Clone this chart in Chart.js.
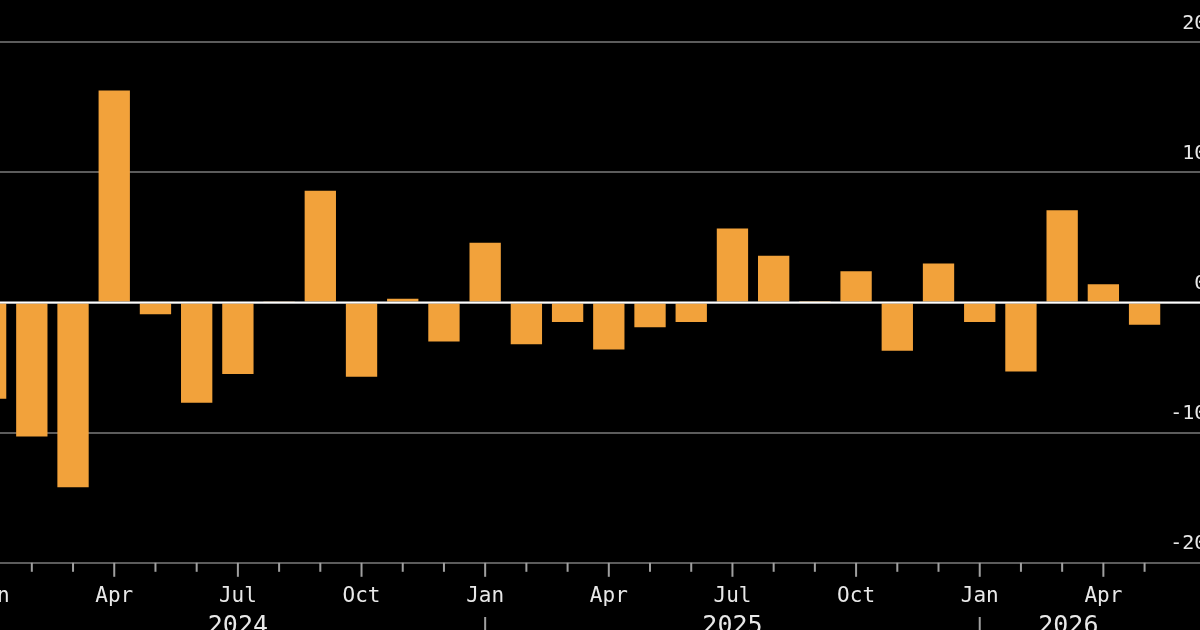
<!DOCTYPE html>
<html>
<head>
<meta charset="utf-8">
<script src="https://cdn.jsdelivr.net/npm/chart.js@4/dist/chart.umd.min.js"></script>
<style>
  html, body { margin: 0; padding: 0; background: #000; overflow: hidden; width: 1200px; height: 630px; }
  #wrap { position: absolute; left: -55.4px; top: 0; width: 1320px; height: 630px; }
</style>
</head>
<body>
<div id="wrap"><canvas id="chart" width="1320" height="630"></canvas></div>
<script>
// monthly categories, Jan 2024 .. Jun 2026 (last one is empty room at the right edge)
const months = [
  '2024-01','2024-02','2024-03','2024-04','2024-05','2024-06','2024-07','2024-08','2024-09','2024-10','2024-11','2024-12',
  '2025-01','2025-02','2025-03','2025-04','2025-05','2025-06','2025-07','2025-08','2025-09','2025-10','2025-11','2025-12',
  '2026-01','2026-02','2026-03','2026-04','2026-05','2026-06'
];
const monthNames = ['Jan','Feb','Mar','Apr','May','Jun','Jul','Aug','Sep','Oct','Nov','Dec'];

// values, Jan 2024 .. May 2026
const values = [
  -7.4, -10.3, -14.2, 16.3, -0.9, -7.7, -5.5, 0.1, 8.6, -5.7, 0.3, -3.0,
  4.6, -3.2, -1.5, -3.6, -1.9, -1.5, 5.7, 3.6, 0.05, 2.4, -3.7, 3.0,
  -1.5, -5.3, 7.1, 1.4, -1.7
];

const yTicks = [-20, -10, 0, 10, 20];
const years = ['2024', '2025', '2026'];
const yearCenters = [6, 18, 26.15]; // category index where each year label sits

const TEXT = '#e8e8e8';
const GRID = '#5c5c5c';
const FONT = '"DejaVu Sans Mono", monospace';

const axisDecor = {
  id: 'axisDecor',
  afterDatasetsDraw(chart) {
    const { ctx, chartArea, scales: { y } } = chart;
    const y0 = y.getPixelForValue(0);
    ctx.save();
    ctx.strokeStyle = '#ffffff';
    ctx.lineWidth = 2;
    ctx.beginPath();
    ctx.moveTo(chartArea.left, y0);
    ctx.lineTo(chartArea.right, y0);
    ctx.stroke();
    ctx.restore();
  },
  afterDraw(chart) {
    const { ctx, chartArea, scales: { x } } = chart;
    const base = chartArea.bottom;
    ctx.save();
    ctx.strokeStyle = '#a0a0a0';
    ctx.lineWidth = 2;
    // month ticks, longer on quarters
    values.forEach((v, i) => {
      const m = +months[i].slice(5) - 1;
      const px = x.getPixelForValue(i);
      const len = m % 3 === 0 ? 14 : 9;
      ctx.beginPath();
      ctx.moveTo(px, base);
      ctx.lineTo(px, base + len);
      ctx.stroke();
      // year separators under January
      if (m === 0) {
        ctx.beginPath();
        ctx.moveTo(px, 617);
        ctx.lineTo(px, 640);
        ctx.stroke();
      }
    });
    // year labels
    const step = x.getPixelForValue(1) - x.getPixelForValue(0);
    ctx.fillStyle = TEXT;
    ctx.font = '25px ' + FONT;
    ctx.textAlign = 'center';
    ctx.textBaseline = 'alphabetic';
    years.forEach((yr, k) => {
      const c = yearCenters[k];
      const px = x.getPixelForValue(Math.floor(c)) + (c - Math.floor(c)) * step;
      ctx.fillText(yr, px, 633);
    });
    ctx.restore();
  }
};

new Chart(document.getElementById('chart'), {
  type: 'bar',
  data: {
    labels: months,
    datasets: [{
      data: values,
      backgroundColor: '#f2a23b',
      borderWidth: 0,
      categoryPercentage: 1,
      barPercentage: 0.76
    }]
  },
  options: {
    responsive: false,
    animation: false,
    layout: { padding: { left: 25, right: 58.6, top: 42.3, bottom: 0 } },
    plugins: { legend: { display: false }, tooltip: { enabled: false } },
    scales: {
      x: {
        grid: { display: false, drawTicks: false },
        border: { display: false },
        ticks: {
          autoSkip: false,
          maxRotation: 0,
          padding: 21,
          color: TEXT,
          font: { family: FONT, size: 21 },
          callback: (val, i) => {
            const m = +months[i].slice(5) - 1;
            return m % 3 === 0 ? monthNames[m] : '';
          }
        }
      },
      y: {
        position: 'right',
        min: yTicks[0],
        max: yTicks[yTicks.length - 1],
        afterBuildTicks: (axis) => { axis.ticks = yTicks.map(v => ({ value: v })); },
        grid: { color: GRID, lineWidth: 2, drawTicks: false },
        border: { display: false },
        ticks: {
          mirror: true,
          padding: 0,
          labelOffset: -19,
          color: TEXT,
          font: { family: FONT, size: 20 },
          callback: (v) => String(v)
        }
      }
    }
  },
  plugins: [axisDecor]
});
</script>
</body>
</html>
